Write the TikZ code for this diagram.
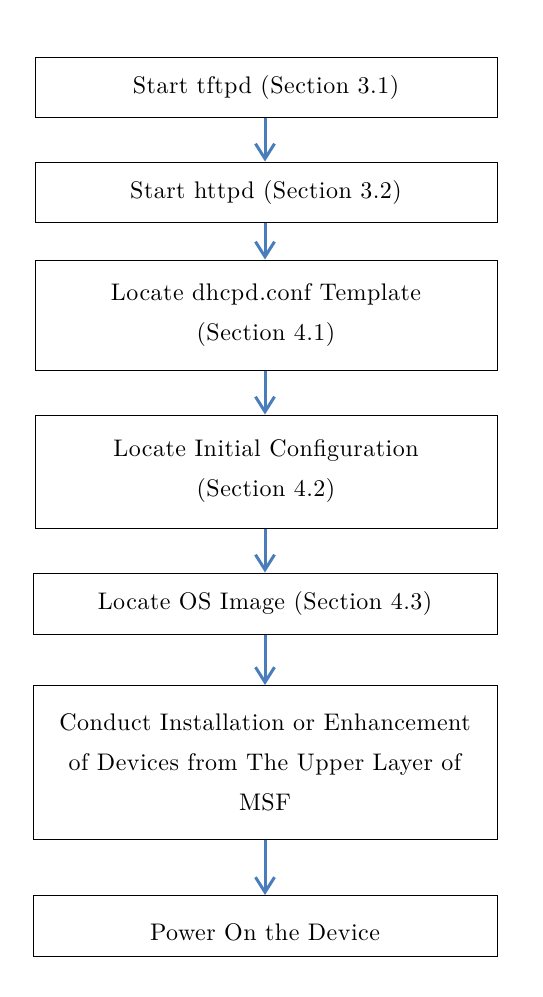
\documentclass[tikz,border=0pt]{standalone}
\usepackage{fontspec}
\usepackage{tikz}
\usetikzlibrary{arrows.meta}
\newfontfamily\boxfont{lmroman10-regular}[Extension=.otf, LetterSpace=2]
\definecolor{flow}{HTML}{4A7EBB}

\tikzset{
  stepbox/.style={draw, line width=1pt, minimum width=462pt, align=center,
                  font=\boxfont\fontsize{24}{40}\selectfont, inner sep=0pt},
  flowarrow/.style={-{Straight Barb[length=15pt,width=19pt]}, line width=3pt, color=flow}
}

\begin{document}
\begin{tikzpicture}[x=1pt, y=-1pt]
\useasboundingbox (0,0) rectangle (542,997);

% the boxes, top to bottom
\node[stepbox, minimum height=60pt]  (tftp)  at (266,87)    {Start tftpd (Section 3.1)};
\node[stepbox, minimum height=60pt]  (http)  at (266,192)   {Start httpd (Section 3.2)};
\node[stepbox, minimum height=110pt] (dhcp)  at (266,315)   {Locate dhcpd.conf Template\\(Section 4.1)};
\node[stepbox, minimum height=113pt] (init)  at (266,471.5) {Locate Initial Configuration\\(Section 4.2)};
\node[stepbox, minimum height=61pt, minimum width=464pt] (image) at (265,603.5) {Locate OS Image (Section 4.3)};
\node[stepbox, minimum height=154pt, minimum width=464pt] (msf) at (265,762.5)
     {Conduct Installation or Enhancement\\of Devices from The Upper Layer of\\MSF};
\node[stepbox, minimum height=61pt, minimum width=464pt] (power) at (265,926)
     {\raisebox{-14pt}[0pt][0pt]{Power On the Device}};

% arrows between them
\draw[flowarrow] (tftp.south -| 265,0)  -- (http.north -| 265,0);
\draw[flowarrow] (http.south -| 265,0)  -- (dhcp.north -| 265,0);
\draw[flowarrow] (dhcp.south -| 265,0)  -- (init.north -| 265,0);
\draw[flowarrow] (init.south -| 265,0)  -- (image.north);
\draw[flowarrow] (image.south) -- (msf.north);
\draw[flowarrow] (msf.south)   -- (power.north);

\end{tikzpicture}
\end{document}
